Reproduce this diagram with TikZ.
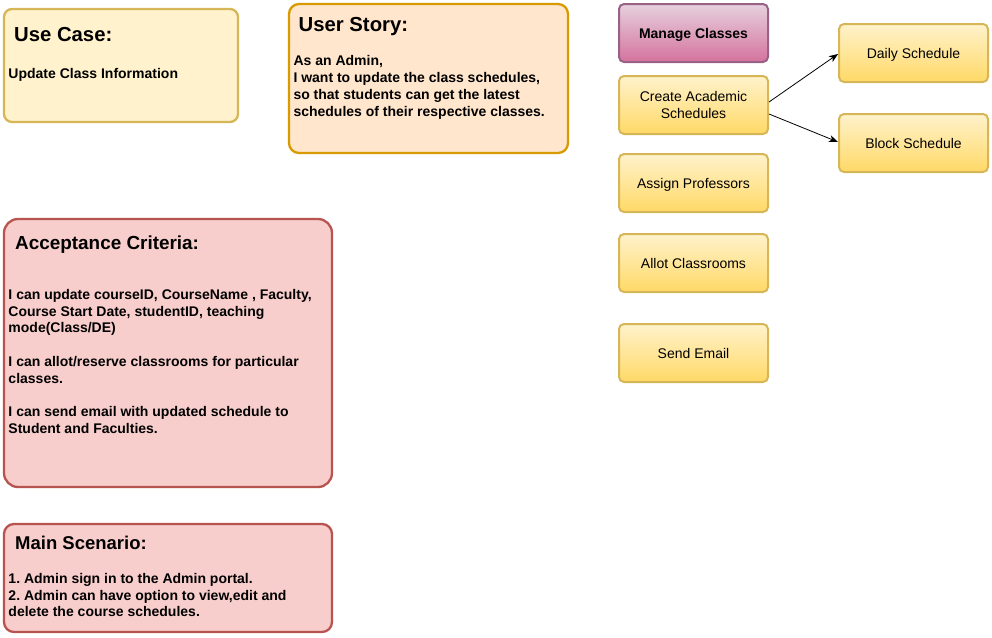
\documentclass[tikz,border=0pt]{standalone}
\usepackage{fontspec}
\setmainfont{Liberation Sans}
\usetikzlibrary{arrows.meta}
\frenchspacing
\definecolor{ucfill}{HTML}{FFF2CC}
\definecolor{ucdraw}{HTML}{D6B656}
\definecolor{usfill}{HTML}{FFE6CC}
\definecolor{usdraw}{HTML}{D79B00}
\definecolor{acfill}{HTML}{F8CECC}
\definecolor{acdraw}{HTML}{B85450}
\definecolor{mgtop}{HTML}{E6D0DE}
\definecolor{mgbot}{HTML}{D5739D}
\definecolor{mgdraw}{HTML}{996185}
\definecolor{yltop}{HTML}{FFF2CC}
\definecolor{ylbot}{HTML}{FFD966}
\tikzset{
  bigbox/.style={rectangle, line width=2.3pt, inner sep=0pt},
  smallbox/.style={rectangle, rounded corners=5pt, line width=2pt, draw=ucdraw,
    top color=yltop, bottom color=ylbot, minimum width=149pt, minimum height=58pt,
    inner sep=0pt, text depth=0pt, align=center, font=\fontsize{14}{17}\selectfont},
  titletext/.style={anchor=base west, inner sep=0pt, font=\fontsize{20.3}{24}\selectfont\bfseries},
  bodytext/.style={anchor=north west, inner sep=0pt, align=left, font=\fontsize{14}{16.7}\selectfont\bfseries\frenchspacing},
  conn/.style={line width=0.8pt, -{Stealth[length=9pt,width=7pt,inset=2.5pt]}}
}
\begin{document}
\begin{tikzpicture}[x=1pt,y=-1pt]
\useasboundingbox (0,0) rectangle (992,637);
% big boxes
\node[bigbox, draw=ucdraw, fill=ucfill, rounded corners=8pt, minimum width=234pt, minimum height=113pt] (usecase) at (121,65.5) {};
\node[bigbox, draw=usdraw, fill=usfill, rounded corners=10pt, minimum width=279pt, minimum height=149pt] (story) at (428.5,78.5) {};
\node[bigbox, draw=acdraw, fill=acfill, rounded corners=14pt, minimum width=328pt, minimum height=268pt] (accept) at (168,353) {};
\node[bigbox, draw=acdraw, fill=acfill, rounded corners=10pt, minimum width=328pt, minimum height=108pt] (scenario) at (168,578) {};
% titles
\node[titletext] (ucTitle) at (14,41) {Use Case:};
\node[titletext] (usTitle) at (298.5,31.5) {User Story:};
\node[titletext, font=\fontsize{18.9}{23}\selectfont\bfseries] (acTitle) at (15,249.5) {Acceptance Criteria:};
\node[titletext, font=\fontsize{18.5}{23}\selectfont\bfseries] (msTitle) at (15,549.3) {Main Scenario:};
% bodies
\node[bodytext] (ucBody) at (8.3,68.5) {Update Class Information};
\node[bodytext] (usBody) at (293.3,55.6) {As an Admin,\\I want to update the class schedules,\\so that students can get the latest\\schedules of their respective classes.};
\node[bodytext] (acBody) at (8.3,289.2) {I can update courseID, CourseName , Faculty,\\Course Start Date, studentID, teaching\\mode(Class/DE)\\[16.7pt]I can allot/reserve classrooms for particular\\classes.\\[16.7pt]I can send email with updated schedule to\\Student and Faculties.};
\node[bodytext] (msBody) at (8.3,573.2) {1. Admin sign in to the Admin portal.\\2. Admin can have option to view,edit and\\delete the course schedules.};
% right side boxes
\node[smallbox, draw=mgdraw, top color=mgtop, bottom color=mgbot, font=\fontsize{14}{17}\selectfont\bfseries] (manage) at (693.5,33) {Manage Classes};
\node[smallbox] (create) at (693.5,105) {Create Academic\\Schedules};
\node[smallbox] (assign) at (693.5,183) {Assign Professors};
\node[smallbox] (allot) at (693.5,263) {Allot Classrooms};
\node[smallbox] (email) at (693.5,353) {Send Email};
\node[smallbox] (daily) at (913.5,53) {Daily Schedule};
\node[smallbox] (block) at (913.5,143) {Block Schedule};
% connectors
\draw[conn] ([yshift=3pt]create.east) -- ([yshift=-1pt]daily.west);
\draw[conn] ([yshift=-9pt]create.east) -- ([yshift=1pt]block.west);
\end{tikzpicture}
\end{document}
